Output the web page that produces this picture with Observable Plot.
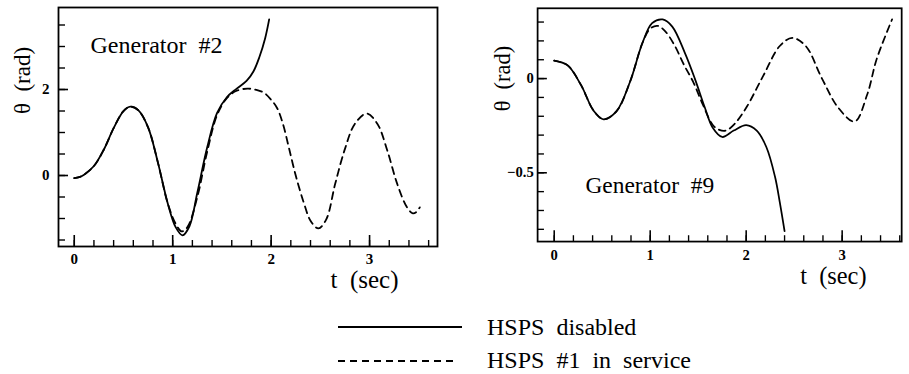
<!DOCTYPE html>
<html>
<head>
<meta charset="utf-8">
<script src="https://cdn.jsdelivr.net/npm/d3@7"></script>
<script src="https://cdn.jsdelivr.net/npm/@observablehq/plot@0.6"></script>
<style>
  html, body { margin: 0; padding: 0; background: #fff; }
  #wrap { position: relative; width: 909px; height: 374px; overflow: hidden; background: #fff; }
  #left { position: absolute; left: 0; top: 0; }
  #right { position: absolute; left: 460px; top: 0; }
  #legend { position: absolute; left: 0; top: 0; }
  #legend text { white-space: pre; }
</style>
</head>
<body>
<div id="wrap">
  <div id="left"></div>
  <div id="right"></div>
  <svg id="legend" width="909" height="374"></svg>
</div>
<script>
// ---------- data ----------
// Generator #2 — HSPS disabled (solid)
const g2DisabledT =     [0, 0.05, 0.1, 0.2, 0.3, 0.4, 0.5, 0.57, 0.65, 0.75, 0.85, 0.95, 1.03, 1.1, 1.17, 1.25, 1.35, 1.45, 1.55, 1.65, 1.75, 1.82, 1.88, 1.94, 1.98];
const g2DisabledTheta = [-0.06, -0.04, 0.02, 0.22, 0.6, 1.1, 1.5, 1.6, 1.52, 1.12, 0.3, -0.65, -1.2, -1.39, -1.18, -0.4, 0.65, 1.45, 1.82, 2.02, 2.2, 2.42, 2.75, 3.2, 3.63];
// Generator #2 — HSPS #1 in service (dashed)
const g2ServiceT =     [0, 0.05, 0.1, 0.2, 0.3, 0.4, 0.5, 0.57, 0.65, 0.75, 0.85, 0.95, 1.03, 1.09, 1.15, 1.25, 1.35, 1.45, 1.55, 1.65, 1.76, 1.85, 1.93, 2.0, 2.06, 2.12, 2.18, 2.25, 2.33, 2.4, 2.48, 2.56, 2.65, 2.75, 2.85, 2.97, 3.08, 3.18, 3.28, 3.38, 3.44, 3.48, 3.51];
const g2ServiceTheta = [-0.06, -0.04, 0.02, 0.22, 0.6, 1.1, 1.5, 1.6, 1.52, 1.12, 0.3, -0.65, -1.12, -1.3, -1.2, -0.5, 0.55, 1.4, 1.8, 1.97, 2.02, 1.99, 1.92, 1.76, 1.57, 1.2, 0.65, 0.0, -0.62, -1.05, -1.23, -1.02, -0.2, 0.62, 1.2, 1.44, 1.2, 0.58, -0.19, -0.74, -0.88, -0.84, -0.74];

// Generator #9 — HSPS disabled (solid)
const g9DisabledT =     [0, 0.14, 0.28, 0.41, 0.515, 0.65, 0.79, 0.92, 1.02, 1.13, 1.23, 1.36, 1.465, 1.57, 1.65, 1.75, 1.87, 2.0, 2.11, 2.21, 2.3, 2.35, 2.4];
const g9DisabledTheta = [0.095, 0.07, -0.035, -0.17, -0.216, -0.173, -0.017, 0.19, 0.294, 0.314, 0.276, 0.138, 0.0, -0.155, -0.26, -0.31, -0.276, -0.247, -0.276, -0.363, -0.52, -0.656, -0.81];
// Generator #9 — HSPS #1 in service (dashed)
const g9ServiceT =     [0, 0.14, 0.28, 0.41, 0.515, 0.65, 0.79, 0.92, 1.0, 1.075, 1.15, 1.25, 1.35, 1.45, 1.55, 1.65, 1.72, 1.79, 1.88, 2.0, 2.18, 2.35, 2.48, 2.62, 2.79, 2.96, 3.13, 3.26, 3.36, 3.52];
const g9ServiceTheta = [0.095, 0.07, -0.035, -0.17, -0.216, -0.173, -0.017, 0.19, 0.265, 0.28, 0.255, 0.18, 0.075, -0.02, -0.14, -0.245, -0.272, -0.276, -0.24, -0.155, 0.017, 0.173, 0.216, 0.173, 0.0, -0.155, -0.228, -0.086, 0.104, 0.314];

// ticks and labels
const xTickLabels = [0, 1, 2, 3];
const xMinorTicks = [0, 0.2, 0.4, 0.6, 0.8, 1, 1.2, 1.4, 1.6, 1.8, 2, 2.2, 2.4, 2.6, 2.8, 3, 3.2, 3.4, 3.6];
const g2YTickLabels = [0, 2];
const g2YMinorTicks = [-1.5, -1, -0.5, 0, 0.5, 1, 1.5, 2, 2.5, 3, 3.5];
const g9YTickLabels = [-0.5, 0];
const g9YMinorTicks = [-0.8, -0.7, -0.6, -0.5, -0.4, -0.3, -0.2, -0.1, 0, 0.1, 0.2, 0.3];

const yLabel = "θ  (rad)";
const xLabel = "t  (sec)";
const g2Title = "Generator  #2";
const g9Title = "Generator  #9";
const legendLabels = ["HSPS  disabled", "HSPS  #1  in  service"];

const font = "Liberation Serif";
const dash = "7,5";
const fmt = d => (d < 0 ? "\u2212" : "") + String(Math.abs(d));

function panel(opts) {
  const {width, height, ml, mr, mt, mb, xDomain, yDomain,
         T1, Y1, T2, Y2, yLabels, yMinor, ypad, xpad, title, titleDx, titleDy, yLabDx, yLabDy, xLabDx, xLabDy} = opts;
  const ph = height - mt - mb;
  const pw = width - ml - mr;
  const s1 = T1.map((t, i) => ({t, v: Y1[i]}));
  const s2 = T2.map((t, i) => ({t, v: Y2[i]}));
  return Plot.plot({
    width, height,
    marginLeft: ml, marginRight: mr, marginTop: mt, marginBottom: mb,
    x: {domain: xDomain},
    y: {domain: yDomain},
    style: "font-family: 'Liberation Serif'; font-size: 15px; color: #000; background: transparent;",
    marks: [
      Plot.frame({stroke: "#000", strokeWidth: 1.8}),
      Plot.tickX(xMinorTicks, {x: d => d, stroke: "#000", strokeWidth: 1.4, insetTop: ph - 6}),
      Plot.tickX(xTickLabels, {x: d => d, stroke: "#000", strokeWidth: 1.6, insetTop: ph - 11}),
      Plot.tickY(yMinor, {y: d => d, stroke: "#000", strokeWidth: 1.4, insetRight: pw - 7}),
      Plot.tickY(yLabels, {y: d => d, stroke: "#000", strokeWidth: 1.6, insetRight: pw - 10}),
      Plot.axisX(xTickLabels, {tickSize: 0, tickPadding: xpad, label: null, fontSize: 15, fontWeight: "bold", fontFamily: font, tickFormat: fmt}),
      Plot.axisY(yLabels, {tickSize: 0, tickPadding: ypad, label: null, fontSize: 15, fontWeight: "bold", fontFamily: font, tickFormat: fmt}),
      Plot.line(s2, {x: "t", y: "v", curve: "catmull-rom", stroke: "#000", strokeWidth: 1.8, strokeDasharray: dash}),
      Plot.line(s1, {x: "t", y: "v", curve: "catmull-rom", stroke: "#000", strokeWidth: 1.8}),
      Plot.text([title], {text: d => d, frameAnchor: "top-left", dx: titleDx, dy: titleDy, textAnchor: "start", lineAnchor: "middle", fontSize: 24, fontFamily: font}),
      Plot.text([yLabel], {text: d => d, frameAnchor: "top-left", dx: yLabDx, dy: yLabDy, rotate: -90, textAnchor: "middle", lineAnchor: "middle", fontSize: 23, fontFamily: font}),
      Plot.text([xLabel], {text: d => d, frameAnchor: "bottom-left", dx: xLabDx, dy: xLabDy, textAnchor: "middle", lineAnchor: "middle", fontSize: 25, fontFamily: font})
    ]
  });
}

const left = panel({
  width: 450, height: 300, ml: 58, mr: 13, mt: 7, mb: 54,
  xDomain: [-0.16, 3.69], yDomain: [-1.651, 3.907],
  T1: g2DisabledT, Y1: g2DisabledTheta, T2: g2ServiceT, Y2: g2ServiceTheta,
  yLabels: g2YTickLabels, yMinor: g2YMinorTicks, ypad: 9, xpad: 7,
  title: g2Title, titleDx: 32, titleDy: 38,
  yLabDx: -36, yLabDy: 73, xLabDx: 306, xLabDy: 33
});
document.getElementById("left").appendChild(left);

const right = panel({
  width: 460, height: 300, ml: 79, mr: 8, mt: 8, mb: 53,
  xDomain: [-0.173, 3.62], yDomain: [-0.865, 0.373],
  T1: g9DisabledT, Y1: g9DisabledTheta, T2: g9ServiceT, Y2: g9ServiceTheta,
  yLabels: g9YTickLabels, yMinor: g9YMinorTicks, ypad: 4, xpad: 8,
  title: g9Title, titleDx: 49, titleDy: 182,
  yLabDx: -36, yLabDy: 72, xLabDx: 303, xLabDy: 35
});
document.getElementById("right").appendChild(right);

// legend
const lg = d3.select("#legend");
const rows = [
  {label: legendLabels[0], y: 327, x2: 462, dash: null, base: 335},
  {label: legendLabels[1], y: 361, x2: 458, dash: dash, base: 368}
];
rows.forEach(r => {
  lg.append("line").attr("x1", 338).attr("x2", r.x2).attr("y1", r.y).attr("y2", r.y)
    .attr("stroke", "#000").attr("stroke-width", 1.8).attr("stroke-dasharray", r.dash);
  lg.append("text").attr("x", 487).attr("y", r.base).attr("font-family", font)
    .attr("font-size", 24).text(r.label);
});
</script>
</body>
</html>
